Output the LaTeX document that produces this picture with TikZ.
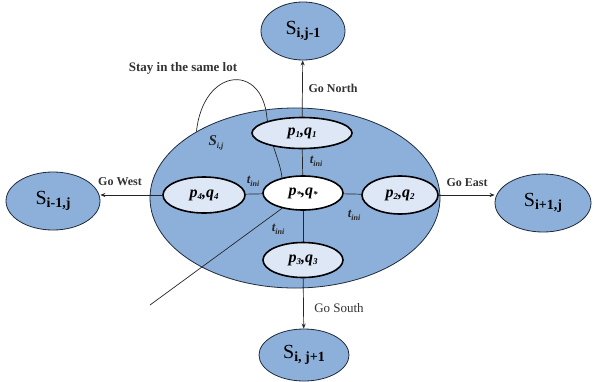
\documentclass[tikz,border=0pt]{standalone}
\usepackage{fontspec}
\setmainfont{Liberation Serif}
\usetikzlibrary{shapes.geometric,arrows.meta}
\pgfdeclarelayer{bg}
\pgfdeclarelayer{mid}
\pgfsetlayers{bg,mid,main}
\definecolor{lotblue}{HTML}{8DB0DA}
\definecolor{cellblue}{HTML}{DDE7F5}
\definecolor{edgecol}{HTML}{1F2A3A}
\newcommand{\Slab}[1]{{\fontsize{20}{20}\selectfont S}\raisebox{-0.5ex}{\fontsize{14}{14}\selectfont\bfseries #1}}
\newcommand{\PQ}[2]{{\fontsize{16}{16}\selectfont\itshape\bfseries p\raisebox{-0.35ex}{\fontsize{9}{9}\selectfont #1},q\raisebox{-0.35ex}{\fontsize{9}{9}\selectfont #2}}}
\newcommand{\Tini}{{\fontsize{13}{13}\selectfont\itshape\bfseries t\raisebox{-0.45ex}{\fontsize{8}{8}\selectfont ini}}}
\tikzset{
  lotshape/.style={ellipse, draw=edgecol, line width=0.8pt, fill=lotblue, inner sep=0pt},
  cellshape/.style={ellipse, draw=black, line width=1.6pt, fill=cellblue, inner sep=0pt, minimum width=#1},
  cellshape/.default=80pt,
  nbshape/.style={ellipse, draw=edgecol, line width=0.8pt, fill=lotblue, inner sep=0pt},
  golab/.style={font=\fontsize{12}{12}\selectfont\bfseries, text=black!80, inner sep=0pt},
  link/.style={draw=black!85, line width=0.7pt},
  arr/.style={draw=black!85, line width=0.7pt, -{Stealth[length=5pt,width=4pt]}},
  tlab/.style={inner sep=0pt, text=black!85}
}
\begin{document}
\begin{tikzpicture}[x=1pt,y=-1pt]
\useasboundingbox (0,0) rectangle (594,381);

\begin{pgfonlayer}{bg}
\fill[white] (0,0) rectangle (594,381);
\node[lotshape, minimum width=290pt, minimum height=180pt] (lot) at (295,198) {};
\end{pgfonlayer}

% neighbour lots
\node[nbshape, minimum width=84pt, minimum height=58pt] (Sn) at (303,31) {\Slab{i,j-1}};
\node[nbshape, minimum width=94pt, minimum height=58pt] (Sw) at (53,201) {\Slab{i-1,j}};
\node[nbshape, minimum width=96pt, minimum height=58pt] (Se) at (543,203) {\Slab{i+1,j}};
\node[nbshape, minimum width=90pt, minimum height=52pt] (Ss) at (304,355) {\Slab{i, j+1}};

% cells inside the lot
\node[cellshape=80pt, fill=white, minimum height=34pt] (c) at (303,193) {\PQ{*}{*}};
\node[cellshape=100pt, minimum height=31pt] (p1) at (302,133) {\PQ{1}{1}};
\node[cellshape=82pt, minimum height=36pt] (p4) at (204,195) {\PQ{4}{4}};
\node[cellshape=76pt, minimum height=38pt] (p2) at (400,195) {\PQ{2}{2}};
\node[cellshape=80pt, minimum height=35pt] (p3) at (303,260) {\PQ{3}{3}};

\coordinate (tail) at (150,305);

\begin{pgfonlayer}{mid}
\draw[link] (lot.146) .. controls (203,68) and (262,62) .. (267,118)
            .. controls (272,150) and (280,160) .. (c.144);
\draw[link] (c) -- (tail);
\draw[link] (c) -- (p1);
\draw[link] (c) -- (p3);
\draw[link] (c) -- (p4);
\draw[link] (c) -- (p2);
\draw[arr] (p1) -- (Sn);
\draw[arr] (p3) -- (Ss);
\draw[arr] (p4.west) -- (p4.west -| Sw.east);
\draw[arr] (p2.east) -- (p2.east -| Se.west);
\end{pgfonlayer}

% labels
\node[tlab] (t1) at (316,161) {\Tini};
\node[tlab] (t4) at (253,181) {\Tini};
\node[tlab] (t2) at (354,215) {\Tini};
\node[tlab] (t3) at (278,229) {\Tini};
\node[tlab] (sij) at (216,143) {{\fontsize{15}{15}\selectfont\itshape\bfseries S\raisebox{-0.5ex}{\fontsize{8}{8}\selectfont i,j}}};

\node[golab, font=\fontsize{13}{13}\selectfont\bfseries] (stay) at (183,68) {Stay in the same lot};
\node[golab] (gn) at (333,88) {Go North};
\node[golab] (gw) at (120,182) {Go West};
\node[golab] (ge) at (467,183) {Go East};
\node[golab, font=\fontsize{13}{13}\selectfont] (gs) at (339,308) {Go South};
\end{tikzpicture}
\end{document}
